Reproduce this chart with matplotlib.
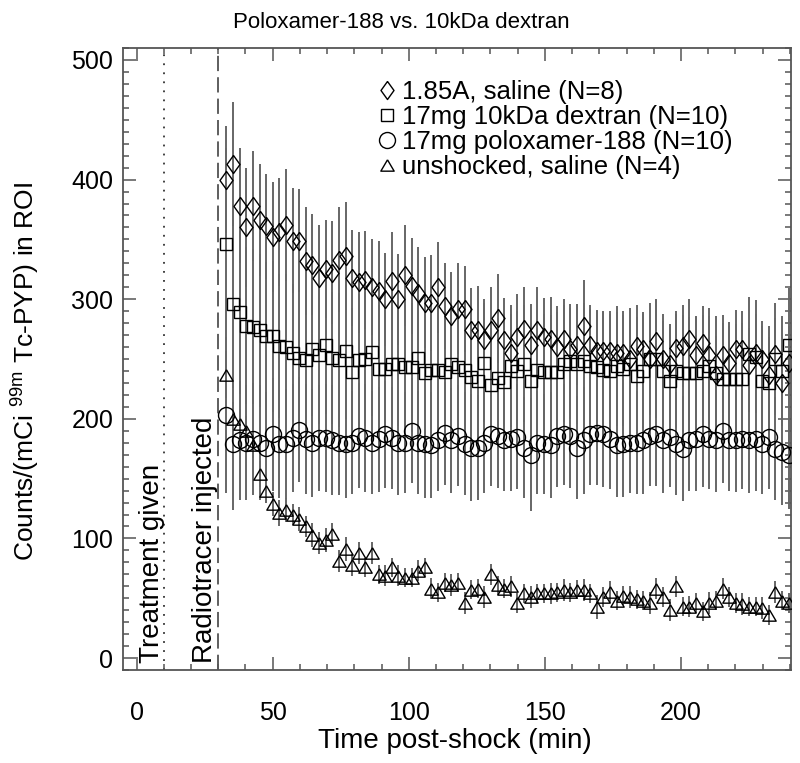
import numpy as np
import matplotlib
matplotlib.use('Agg')
import matplotlib.pyplot as plt
from matplotlib.ticker import MultipleLocator, FixedLocator

plt.rcParams['font.family'] = ['Liberation Sans', 'DejaVu Sans']
plt.rcParams['mathtext.fontset'] = 'custom'
plt.rcParams['mathtext.rm'] = 'Liberation Sans'
plt.rcParams['mathtext.it'] = 'Liberation Sans'
plt.rcParams['mathtext.default'] = 'regular'

# ---------------- data ----------------
title = "Poloxamer-188 vs. 10kDa dextran"
xlabel = "Time post-shock (min)"
ylabel = r"Counts/(mCi $^{99m}$ Tc-PYP) in ROI"
labels = ["1.85A, saline (N=8)", "17mg 10kDa dextran (N=10)",
          "17mg poloxamer-188 (N=10)", "unshocked, saline (N=4)"]

first_time = 33.0      # min, first frame after injection
frame_step = 2.43      # min between frames
n_frames = 86
times = first_time + frame_step * np.arange(n_frames)

treatment_time = 10
injection_time = 30

shock_saline = [400, 413, 378, 360, 378, 366, 361, 352, 356, 362,
                349, 349, 332, 329, 318, 325, 322, 333, 336, 318,
                314, 316, 310, 307, 300, 315, 300, 320, 311, 305,
                297, 297, 310, 294, 286, 292, 292, 274, 274, 266,
                274, 284, 266, 255, 268, 275, 262, 274, 268, 267,
                260, 267, 258, 262, 278, 262, 257, 257, 257, 255,
                255, 250, 261, 258, 250, 265, 250, 246, 259, 261,
                267, 253, 263, 253, 237, 253, 247, 258, 258, 245,
                255, 250, 237, 254, 230, 247]
shock_saline_err = [45, 52, 48, 50, 46, 47, 44, 46, 45, 47,
                    44, 43, 45, 42, 44, 41, 43, 44, 45, 40,
                    42, 41, 40, 42, 39, 41, 38, 42, 40, 39,
                    38, 40, 38, 36, 37, 38, 36, 35, 37, 34,
                    36, 37, 35, 33, 36, 35, 34, 36, 33, 35,
                    34, 33, 35, 34, 38, 33, 34, 32, 33, 34,
                    32, 33, 34, 31, 33, 35, 32, 33, 31, 34,
                    33, 32, 31, 33, 32, 34, 31, 33, 32, 31,
                    33, 32, 31, 30, 32, 31]

dextran = [346, 296, 289, 278, 277, 274, 269, 269, 261, 260,
           255, 251, 249, 258, 253, 262, 251, 249, 257, 239,
           249, 250, 256, 242, 242, 246, 246, 243, 243, 251,
           238, 241, 241, 239, 246, 243, 241, 235, 232, 247,
           228, 234, 231, 244, 240, 246, 232, 241, 239, 239,
           239, 246, 248, 246, 248, 244, 243, 241, 240, 244,
           242, 246, 236, 240, 250, 250, 240, 232, 240, 238,
           238, 238, 240, 244, 238, 233, 233, 233, 233, 254,
           252, 232, 230, 250, 240, 262]
dextran_err = [80, 70, 68, 66, 65, 64, 62, 63, 60, 61,
               58, 57, 59, 56, 57, 58, 55, 56, 57, 54,
               55, 56, 54, 53, 55, 54, 52, 53, 54, 52,
               51, 53, 52, 50, 52, 51, 50, 49, 51, 50,
               48, 50, 49, 51, 50, 49, 48, 50, 49, 48,
               50, 49, 48, 50, 49, 48, 47, 49, 48, 50,
               48, 47, 49, 48, 47, 49, 48, 47, 48, 49,
               47, 48, 47, 49, 48, 47, 48, 46, 47, 48,
               47, 46, 48, 47, 46, 47]

poloxamer = [203, 179, 182, 180, 183, 180, 176, 187, 179, 179,
             184, 191, 183, 180, 184, 184, 182, 180, 179, 180,
             186, 184, 180, 183, 187, 184, 180, 180, 190, 180,
             179, 178, 182, 188, 182, 186, 179, 176, 176, 180,
             187, 186, 182, 183, 185, 176, 170, 180, 179, 178,
             186, 187, 186, 176, 182, 187, 188, 187, 183, 178,
             179, 180, 180, 182, 186, 187, 182, 185, 179, 175,
             182, 183, 187, 183, 182, 190, 182, 182, 183, 182,
             183, 179, 185, 175, 172, 170]
poloxamer_err = [65, 55, 50, 48, 47, 48, 46, 47, 45, 46,
                 45, 44, 46, 45, 44, 45, 46, 44, 45, 43,
                 44, 45, 43, 44, 45, 43, 44, 42, 44, 43,
                 45, 44, 42, 43, 44, 42, 43, 45, 44, 42,
                 43, 44, 42, 43, 44, 42, 47, 43, 42, 44,
                 43, 42, 44, 43, 45, 42, 43, 44, 42, 43,
                 44, 42, 43, 45, 42, 43, 44, 42, 43, 44,
                 42, 43, 44, 42, 43, 44, 42, 43, 42, 44,
                 43, 42, 44, 43, 44, 45]

unshocked = [237, 200, 196, 190, 178, 154, 140, 129, 121, 124,
             120, 116, 110, 103, 96, 99, 104, 81, 91, 78,
             88, 76, 88, 70, 69, 76, 69, 67, 67, 73,
             76, 58, 55, 63, 61, 63, 46, 57, 58, 51,
             70, 61, 58, 60, 46, 54, 51, 54, 54, 54,
             55, 57, 55, 57, 57, 54, 43, 51, 55, 48,
             52, 51, 49, 48, 46, 58, 51, 40, 60, 43,
             43, 46, 39, 46, 48, 58, 51, 46, 45, 43,
             43, 42, 36, 55, 48, 46]
unshocked_err = [20, 14, 12, 12, 11, 11, 10, 10, 11, 10,
                 9, 10, 9, 10, 9, 10, 9, 9, 10, 9,
                 9, 8, 9, 8, 9, 8, 9, 8, 8, 9,
                 8, 9, 8, 8, 9, 8, 9, 8, 8, 9,
                 9, 8, 8, 9, 8, 8, 9, 8, 8, 9,
                 8, 9, 8, 8, 9, 8, 10, 8, 9, 8,
                 8, 9, 8, 8, 9, 9, 8, 9, 9, 8,
                 9, 8, 8, 9, 8, 9, 8, 8, 9, 8,
                 8, 9, 8, 9, 8, 8]

# ---------------- style ----------------
diamond = [(0, 1), (0.72, 0), (0, -1), (-0.72, 0), (0, 1)]
triangle = [(0, 0.85), (1, -0.85), (-1, -0.85), (0, 0.85)]
series = [
    (shock_saline, shock_saline_err, diamond, 13.0),
    (dextran, dextran_err, 's', 8.6),
    (poloxamer, poloxamer_err, 'o', 11.5),
    (unshocked, unshocked_err, triangle, 9.6),
]
axis_color = '#555555'
bar_color = '#666666'

fig = plt.figure(figsize=(8.0, 7.63), dpi=100)
ax = fig.add_axes([123/800, 1-670/763, (791-123)/800, (670-48)/763])

for vals, errs, mk, ms in series:
    ax.errorbar(times, vals, yerr=errs, fmt='none', ecolor=bar_color,
                elinewidth=1.4, capsize=0, zorder=2)
for (vals, errs, mk, ms), lab in zip(series, labels):
    ax.plot(times, vals, linestyle='none', marker=mk, markersize=ms,
            markerfacecolor='none', markeredgecolor='black',
            markeredgewidth=1.0, label=lab, zorder=3)

ax.axvline(treatment_time, color='#333333', linestyle=(0, (1, 4)), lw=1.3, zorder=1)
ax.axvline(injection_time, color='#333333', linestyle=(0, (10, 4)), lw=1.1, zorder=1)
ax.text(5.5, -4, "Treatment given", rotation=90, ha='center', va='bottom', fontsize=20)
ax.text(25.0, -4, "Radiotracer injected", rotation=90, ha='center', va='bottom', fontsize=20)

ax.set_xlim(-5, 240.4)
ax.set_ylim(-10, 510)
ax.xaxis.set_major_locator(FixedLocator([0, 50, 100, 150, 200]))
ax.xaxis.set_minor_locator(MultipleLocator(10))
ax.yaxis.set_major_locator(MultipleLocator(100))
ax.yaxis.set_minor_locator(MultipleLocator(10))
ax.tick_params(which='both', direction='in', top=True, right=True, color=axis_color, width=1.1)
ax.tick_params(which='major', length=9.5)
ax.tick_params(which='minor', length=4.5)
ax.tick_params(axis='x', which='major', pad=22, labelsize=18)
ax.tick_params(axis='y', which='major', pad=7, labelsize=18)
for sp in ax.spines.values():
    sp.set_color(axis_color)
    sp.set_linewidth(1.3)

ax.set_xlabel(xlabel, fontsize=20)
ax.xaxis.set_label_coords(0.497, -0.093)
ax.set_ylabel(ylabel, fontsize=19)
ax.yaxis.set_label_coords(-0.121, 0.48)
fig.text(0.502, 0.971, title, ha='center', va='center', fontsize=16)

ax.legend(loc='upper left', bbox_to_anchor=(0.378, 0.948), frameon=False,
          fontsize=18.5, handlelength=0.9, handletextpad=0.15, labelspacing=0.04,
          borderpad=0, borderaxespad=0, numpoints=1)

fig.savefig('out.png', dpi=100)
